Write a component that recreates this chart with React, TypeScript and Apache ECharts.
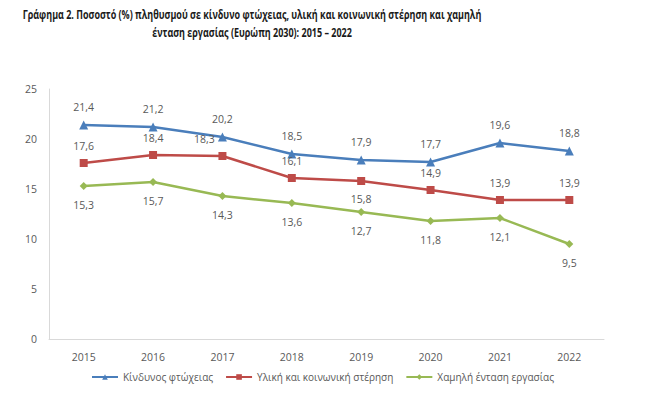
import React, { useEffect, useRef } from "react";
import * as echarts from "echarts";

const years = ["2015", "2016", "2017", "2018", "2019", "2020", "2021", "2022"];
const poverty = [21.4, 21.2, 20.2, 18.5, 17.9, 17.7, 19.6, 18.8];
const deprivation = [17.6, 18.4, 18.3, 16.1, 15.8, 14.9, 13.9, 13.9];
const lowWork = [15.3, 15.7, 14.3, 13.6, 12.7, 11.8, 12.1, 9.5];
const seriesNames = ["Κίνδυνος φτώχειας", "Υλική και κοινωνική στέρηση", "Χαμηλή ένταση εργασίας"];
const titleLines = [
  "Γράφημα 2. Ποσοστό (%) πληθυσμού σε κίνδυνο φτώχειας, υλική και κοινωνική στέρηση και χαμηλή",
  "ένταση εργασίας (Ευρώπη 2030): 2015 – 2022",
];

const FONT = "'Open Sans', 'Noto Sans', sans-serif";
const TFONT = "'Open Sans', 'Noto Sans', sans-serif";
const fmt = (p: any) => String(p.value).replace(".", ",");

export default function App() {
  const ref = useRef<HTMLDivElement>(null);
  useEffect(() => {
    const chart = echarts.init(ref.current!, null, { renderer: "svg" });
    const labelStyle = { show: true, formatter: fmt, color: "#595959", fontSize: 10.5, fontFamily: FONT };
    const redData = deprivation.map((v, i) => {
      if (i === 2) return { value: v, label: { position: "top", offset: [-18, 0] } };
      if (i === 4) return { value: v, label: { position: "bottom" } };
      return v;
    });
    chart.setOption({
      animation: false,
      backgroundColor: "#ffffff",
      graphic: titleLines.map((t, i) => ({
        type: "text",
        x: 252,
        y: 8 + i * 18,
        scaleX: 0.75,
        style: {
          text: t,
          align: "center",
          verticalAlign: "top",
          font: `bold 12px ${TFONT}`,
          fill: "#1a1a1a",
        },
      })),
      legend: {
        bottom: 8,
        left: 86,
        itemGap: 12,
        itemWidth: 26,
        itemHeight: 7,
        textStyle: { fontSize: 10, fontFamily: FONT, color: "#595959" },
        data: seriesNames,
      },
      grid: { left: 49, right: 56, top: 89, bottom: 56 },
      xAxis: {
        type: "category",
        data: years,
        boundaryGap: true,
        axisLine: { lineStyle: { color: "#d9d9d9", width: 1 } },
        axisTick: { show: false },
        axisLabel: { color: "#595959", fontSize: 10.5, fontFamily: FONT, margin: 12 },
      },
      yAxis: {
        type: "value",
        min: 0,
        max: 25,
        interval: 5,
        axisLine: { show: true, lineStyle: { color: "#d9d9d9", width: 1 } },
        axisTick: { show: false },
        splitLine: { show: false },
        axisLabel: { color: "#595959", fontSize: 10.5, fontFamily: FONT, margin: 12 },
      },
      series: [
        {
          name: seriesNames[0],
          type: "line",
          data: poverty,
          color: "#4a7ebb",
          symbol: "triangle",
          symbolSize: 9,
          lineStyle: { width: 2.5 },
          label: { ...labelStyle, position: "top", distance: 8 },
        },
        {
          name: seriesNames[1],
          type: "line",
          data: redData,
          color: "#be4b48",
          symbol: "rect",
          symbolSize: 8,
          lineStyle: { width: 2.5 },
          label: { ...labelStyle, position: "top", distance: 8 },
        },
        {
          name: seriesNames[2],
          type: "line",
          data: lowWork,
          color: "#98b954",
          symbol: "diamond",
          symbolSize: 8,
          lineStyle: { width: 2.5 },
          label: { ...labelStyle, position: "bottom", distance: 9 },
        },
      ],
    });
    return () => chart.dispose();
  }, []);
  return <div ref={ref} style={{ width: 660, height: 395, position: "absolute", left: 0, top: 0 }} />;
}
